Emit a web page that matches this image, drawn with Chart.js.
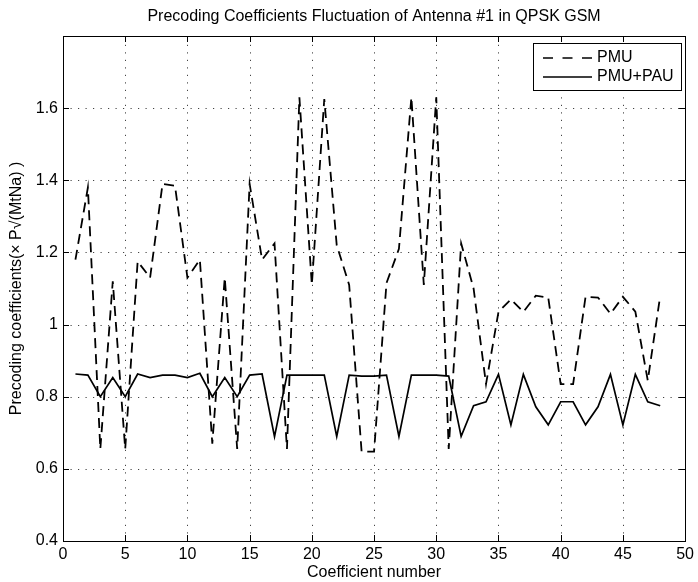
<!DOCTYPE html>
<html>
<head>
<meta charset="utf-8">
<script src="https://cdn.jsdelivr.net/npm/chart.js@4.4.0/dist/chart.umd.min.js"></script>
<style>
  html, body { margin: 0; padding: 0; background: #fff; }
  #wrap { width: 698px; height: 582px; }
</style>
</head>
<body>
<div id="wrap"><canvas id="chart" width="698" height="582"></canvas></div>
<script>
// 데이터
const coeffNumbers = [1, 2, 3, 4, 5, 6, 7, 8, 9, 10, 11, 12, 13, 14, 15, 16,
    17, 18, 19, 20, 21, 22, 23, 24, 25, 26, 27, 28, 29, 30, 31, 32,
    33, 34, 35, 36, 37, 38, 39, 40, 41, 42, 43, 44, 45, 46, 47, 48];

const pmuValues = [1.18, 1.38, 0.655, 1.12, 0.655, 1.175, 1.13, 1.39, 1.385, 1.13, 1.18, 0.67, 1.13, 0.655, 1.39, 1.18,
    1.225, 0.655, 1.63, 1.11, 1.625, 1.22, 1.11, 0.648, 0.648, 1.115, 1.21, 1.63, 1.11, 1.63, 0.655, 1.225,
    1.10, 0.835, 1.035, 1.07, 1.035, 1.08, 1.075, 0.835, 0.835, 1.077, 1.075, 1.03, 1.077, 1.036, 0.845, 1.08];

const pmuPauValues = [0.863, 0.86, 0.80, 0.853, 0.80, 0.863, 0.853, 0.86, 0.86, 0.853, 0.865, 0.80, 0.853, 0.80, 0.86, 0.863,
    0.689, 0.86, 0.86, 0.86, 0.86, 0.69, 0.86, 0.857, 0.857, 0.86, 0.69, 0.86, 0.86, 0.86, 0.857, 0.69,
    0.775, 0.786, 0.862, 0.722, 0.862, 0.772, 0.722, 0.786, 0.786, 0.722, 0.772, 0.862, 0.722, 0.862, 0.786, 0.775];

const xTicks = [0, 5, 10, 15, 20, 25, 30, 35, 40, 45, 50];
const yTicks = [0.4, 0.6, 0.8, 1.0, 1.2, 1.4, 1.6];
const seriesNames = ['PMU', 'PMU+PAU'];

const FONT = "'Liberation Sans', Arial, Helvetica, sans-serif";

// 배경 + 점선 그리드
const gridPlugin = {
    id: 'matlabGrid',
    beforeDraw(chart) {
        const { ctx } = chart;
        ctx.save();
        ctx.fillStyle = '#fff';
        ctx.fillRect(0, 0, chart.width, chart.height);
        ctx.restore();
    },
    beforeDatasetsDraw(chart) {
        const { ctx, chartArea: a, scales: { x, y } } = chart;
        ctx.save();
        ctx.strokeStyle = '#444';
        ctx.lineWidth = 1;
        ctx.setLineDash([1.2, 6.3]);
        xTicks.forEach(v => {
            const px = Math.round(x.getPixelForValue(v)) + 0.5;
            if (px <= a.left + 1 || px >= a.right - 1) return;
            ctx.beginPath(); ctx.moveTo(px, a.bottom); ctx.lineTo(px, a.top); ctx.stroke();
        });
        yTicks.forEach(v => {
            const py = Math.round(y.getPixelForValue(v)) + 0.5;
            if (py >= a.bottom - 1 || py <= a.top + 1) return;
            ctx.beginPath(); ctx.moveTo(a.left, py); ctx.lineTo(a.right, py); ctx.stroke();
        });
        ctx.restore();
    },
    afterDatasetsDraw(chart) {
        const { ctx, chartArea: a, scales: { x, y } } = chart;
        ctx.save();
        ctx.setLineDash([]);
        ctx.strokeStyle = '#000';
        ctx.lineWidth = 1;
        ctx.strokeRect(Math.round(a.left) + 0.5, Math.round(a.top) + 0.5,
            Math.round(a.right - a.left), Math.round(a.bottom - a.top));
        const tl = 6;
        ctx.beginPath();
        xTicks.forEach(v => {
            const px = Math.round(x.getPixelForValue(v)) + 0.5;
            ctx.moveTo(px, a.bottom); ctx.lineTo(px, a.bottom - tl);
            ctx.moveTo(px, a.top); ctx.lineTo(px, a.top + tl);
        });
        yTicks.forEach(v => {
            const py = Math.round(y.getPixelForValue(v)) + 0.5;
            ctx.moveTo(a.left, py); ctx.lineTo(a.left + tl, py);
            ctx.moveTo(a.right, py); ctx.lineTo(a.right - tl, py);
        });
        ctx.stroke();

        // 제목
        ctx.fillStyle = '#000';
        ctx.font = '16px ' + FONT;
        ctx.textAlign = 'center';
        ctx.textBaseline = 'middle';
        ctx.fillText('Precoding Coefficients Fluctuation of Antenna #1 in QPSK GSM', (a.left + a.right) / 2, 17);

        // 범례
        const bx = 533.5, by = 43.5, bw = 148, bh = 47;
        ctx.fillStyle = '#fff';
        ctx.fillRect(bx, by, bw, bh);
        ctx.strokeRect(bx, by, bw, bh);
        const rows = [58, 77];
        ctx.lineWidth = 1.7;
        ctx.setLineDash([10, 9.5]);
        ctx.beginPath(); ctx.moveTo(543, rows[0]); ctx.lineTo(592, rows[0]); ctx.stroke();
        ctx.setLineDash([]);
        ctx.beginPath(); ctx.moveTo(543, rows[1]); ctx.lineTo(592, rows[1]); ctx.stroke();
        ctx.fillStyle = '#000';
        ctx.textAlign = 'left';
        ctx.fillText(seriesNames[0], 597, rows[0]);
        ctx.fillText(seriesNames[1], 597, rows[1]);
        ctx.restore();
    }
};

const ctx = document.getElementById('chart');
const chart = new Chart(ctx, {
    type: 'line',
    data: {
        datasets: [{
            label: seriesNames[0],
            data: coeffNumbers.map((c, i) => ({ x: c, y: pmuValues[i] })),
            borderColor: '#000',
            borderWidth: 1.8,
            borderDash: [10, 6],
            pointRadius: 0,
            tension: 0,
            fill: false
        }, {
            label: seriesNames[1],
            data: coeffNumbers.map((c, i) => ({ x: c, y: pmuPauValues[i] })),
            borderColor: '#000',
            borderWidth: 1.7,
            pointRadius: 0,
            tension: 0,
            fill: false
        }]
    },
    options: {
        responsive: false,
        animation: false,
        layout: { padding: { left: 0, top: 36, right: 10, bottom: 0 } },
        plugins: { legend: { display: false }, tooltip: { enabled: false }, title: { display: false } },
        scales: {
            x: {
                type: 'linear',
                min: 0,
                max: 50,
                afterBuildTicks: s => { s.ticks = xTicks.map(v => ({ value: v })); },
                afterFit: s => { s.height = 41; },
                grid: { display: false, drawTicks: false },
                border: { display: false },
                ticks: { color: '#000', font: { size: 16, family: FONT }, padding: 4, maxRotation: 0 },
                title: { display: true, text: 'Coefficient number', color: '#000', font: { size: 16, family: FONT }, padding: { top: 0, bottom: 0 } }
            },
            y: {
                type: 'linear',
                min: 0.4,
                max: 1.8,
                afterBuildTicks: s => { s.ticks = yTicks.map(v => ({ value: v })); },
                afterFit: s => { s.width = 63; },
                grid: { display: false, drawTicks: false },
                border: { display: false },
                ticks: { color: '#000', font: { size: 16, family: FONT }, padding: 5, callback: v => String(Number(v.toFixed(1))) },
                title: { display: true, text: 'Precoding coefficients(× P√(MtNa) )', color: '#000', font: { size: 16, family: FONT }, padding: { top: 7, bottom: 0 } }
            }
        }
    },
    plugins: [gridPlugin]
});
</script>
</body>
</html>
